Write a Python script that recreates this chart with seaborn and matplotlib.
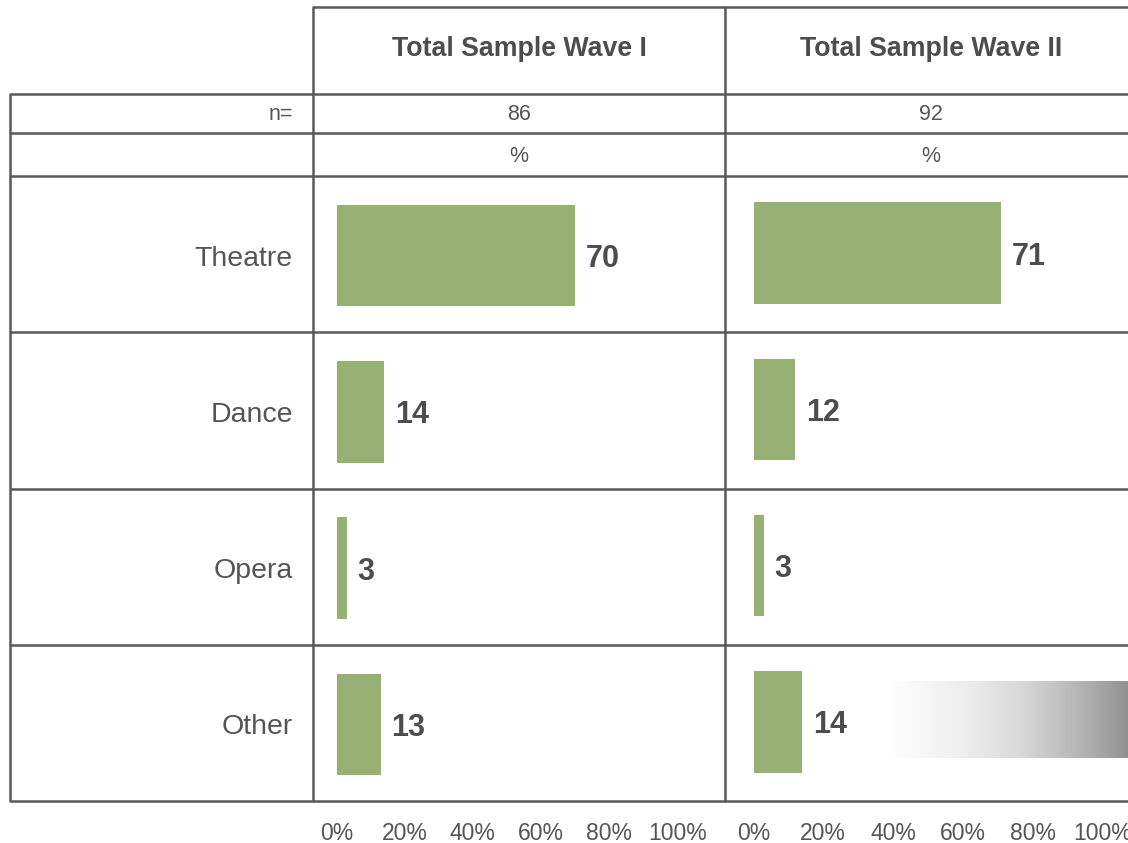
import matplotlib
matplotlib.use('Agg')
import matplotlib.pyplot as plt
import seaborn as sns
import numpy as np
import pandas as pd
from matplotlib.colors import LinearSegmentedColormap

categories = ['Theatre', 'Dance', 'Opera', 'Other']
wave1_values = [70, 14, 3, 13]
wave2_values = [71, 12, 3, 14]
panel_titles = ['Total Sample Wave I', 'Total Sample Wave II']
sample_sizes = [86, 92]
tick_values = [0, 20, 40, 60, 80, 100]
tick_labels = ['0%', '20%', '40%', '60%', '80%', '100%']

sns.set_theme(style='white')
plt.rcParams['font.family'] = ['Liberation Sans', 'DejaVu Sans']

W, H = 1128, 843
fig = plt.figure(figsize=(W / 100, H / 100), dpi=100)
fig.patch.set_facecolor('white')

def fx(px):
    return px / W

def fy(py):
    return 1 - py / H

TEXT = '#555555'
LINE = '#595959'
BAR = '#97B074'

# overlay for the table grid and header texts
ov = fig.add_axes([0, 0, 1, 1])
ov.set_xlim(0, W)
ov.set_ylim(H, 0)
ov.axis('off')

lw = 1.8
ov.plot([313, W], [7, 7], color=LINE, lw=lw, solid_capstyle='butt')
for y in [94, 133, 176, 332, 489, 645, 801]:
    ov.plot([10, W], [y, y], color=LINE, lw=lw, solid_capstyle='butt')
ov.plot([10, 10], [94, 801], color=LINE, lw=lw)
ov.plot([313, 313], [7, 801], color=LINE, lw=lw)
ov.plot([725, 725], [7, 801], color=LINE, lw=lw)

col_centers = [519, 931]
for cx, title, n in zip(col_centers, panel_titles, sample_sizes):
    ov.text(cx, 49, title, ha='center', va='center', fontsize=19.3,
            fontweight='bold', color='#4d4d4d')
    ov.text(cx, 114, str(n), ha='center', va='center', fontsize=15.5, color=TEXT)
    ov.text(cx, 156, '%', ha='center', va='center', fontsize=15.5, color=TEXT)
ov.text(293, 114, 'n=', ha='right', va='center', fontsize=15.5, color=TEXT)

# gradient decoration
gax = fig.add_axes([fx(888), fy(758), fx(W - 888), 77 / H])
cmap = LinearSegmentedColormap.from_list(
    'grad', [(0, '#ffffff'), (0.3, '#efefef'), (0.55, '#d9d9d9'),
             (0.8, '#b5b5b5'), (1, '#929292')])
gax.imshow(np.linspace(0, 1, 256)[None, :], cmap=cmap, aspect='auto')
gax.axis('off')

panels = [
    (wave1_values, 336.5, 341, 802.5, True),
    (wave2_values, 753.5, 349, 800, False),
]
for values, left_px, width_px, bottom_px, show_cats in panels:
    ax = fig.add_axes([fx(left_px), fy(bottom_px), fx(width_px), 625 / H])
    ax.patch.set_alpha(0)
    df = pd.DataFrame({'category': categories, 'value': values})
    sns.barplot(data=df, x='value', y='category', orient='h', color=BAR,
                saturation=1, width=0.65, linewidth=0, ax=ax)
    ax.set_xlim(0, 100)
    ax.set_ylim(3.5, -0.5)
    for i, v in enumerate(values):
        ax.annotate(str(v), xy=(v, i), xytext=(7.5, -2.5),
                    textcoords='offset points', ha='left', va='center',
                    fontsize=22, fontweight='bold', color='#4d4d4d')
    ax.set_xticks(tick_values)
    ax.set_xticklabels(tick_labels, fontsize=16.5, color=TEXT)
    ax.tick_params(axis='x', length=0, pad=15 - (bottom_px - 801) * 0.72)
    ax.set_xlabel('')
    ax.set_ylabel('')
    if show_cats:
        ax.set_yticks(range(len(categories)))
        ax.set_yticklabels(categories, fontsize=20.5, color=TEXT)
        ax.tick_params(axis='y', length=0, pad=31.5)
    else:
        ax.set_yticks([])
    for s in ax.spines.values():
        s.set_visible(False)

fig.savefig('out.png', dpi=100, facecolor='white')
